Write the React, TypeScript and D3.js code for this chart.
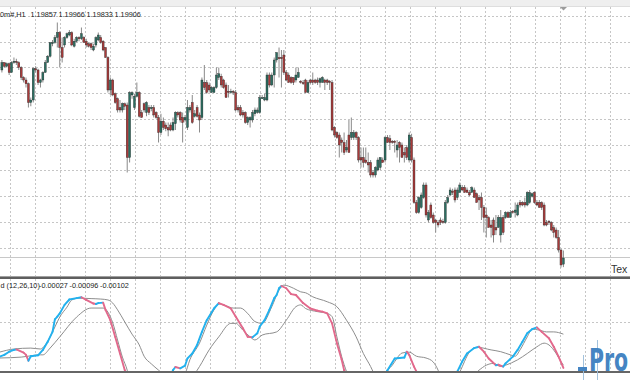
import React from "react";
import * as d3 from "d3";

// ---- Price data (EURUSD H1), oldest -> newest ----
const openP = [
1.2141,1.2147,1.2144,1.2146,1.2139,1.2147,1.2148,1.2147,1.2143,1.2135,
1.2133,1.2130,1.2115,1.2117,1.2142,1.2141,1.2131,1.2133,1.2139,1.2147,
1.2152,1.2162,1.2163,1.2167,1.2171,1.2159,1.2161,1.2167,1.2169,1.2171,
1.2160,1.2164,1.2167,1.2166,1.2167,1.2164,1.2162,1.2162,1.2157,1.2161,
1.2165,1.2167,1.2164,1.2159,1.2151,1.2125,1.2133,1.2122,1.2118,1.2111,
1.2109,1.2114,1.2113,1.2071,1.2121,1.2111,1.2120,1.2123,1.2107,1.2114,
1.2107,1.2111,1.2110,1.2111,1.2107,1.2103,1.2091,1.2100,1.2097,1.2095,
1.2097,1.2093,1.2098,1.2107,1.2107,1.2103,1.2101,1.2095,1.2109,1.2115,
1.2104,1.2111,1.2105,1.2103,1.2131,1.2131,1.2129,1.2123,1.2123,1.2127,
1.2135,1.2136,1.2133,1.2129,1.2124,1.2123,1.2124,1.2123,1.2111,1.2111,
1.2107,1.2107,1.2099,1.2101,1.2101,1.2106,1.2107,1.2107,1.2118,1.2117,
1.2117,1.2137,1.2129,1.2137,1.2149,1.2151,1.2151,1.2153,1.2139,1.2137,
1.2135,1.2135,1.2133,1.2135,1.2132,1.2131,1.2133,1.2123,1.2133,1.2133,
1.2133,1.2133,1.2131,1.2131,1.2133,1.2133,1.2132,1.2131,1.2095,1.2091,
1.2089,1.2085,1.2083,1.2077,1.2089,1.2087,1.2087,1.2091,1.2087,1.2071,
1.2071,1.2069,1.2067,1.2067,1.2059,1.2057,1.2061,1.2063,1.2069,1.2069,
1.2087,1.2086,1.2084,1.2084,1.2077,1.2083,1.2081,1.2075,1.2079,1.2069,
1.2087,1.2069,1.2035,1.2027,1.2031,1.2039,1.2049,1.2021,1.2033,1.2025,
1.2021,1.2019,1.2021,1.2020,1.2019,1.2035,1.2041,1.2044,1.2045,1.2039,
1.2043,1.2047,1.2047,1.2045,1.2043,1.2043,1.2045,1.2042,1.2039,1.2039,
1.2031,1.2025,1.2023,1.2017,1.2021,1.2015,1.2015,1.2009,1.2023,1.2023,
1.2027,1.2023,1.2028,1.2027,1.2025,1.2035,1.2035,1.2035,1.2033,1.2035,
1.2040,1.2043,1.2035,1.2035,1.2035,1.2033,1.2019,1.2020,1.2019,1.2015,
1.2013,1.2007,1.1997,1.19857];

const highP = [
1.2149,1.2147,1.2147,1.2147,1.2148,1.2151,1.2150,1.2148,1.2144,1.2136,
1.2135,1.2131,1.2119,1.2143,1.2144,1.2142,1.2134,1.2140,1.2149,1.2153,
1.2163,1.2165,1.2169,1.2179,1.2172,1.2167,1.2168,1.2171,1.2173,1.2172,
1.2166,1.2168,1.2168,1.2175,1.2168,1.2166,1.2163,1.2163,1.2162,1.2168,
1.2171,1.2169,1.2165,1.2159,1.2152,1.2135,1.2134,1.2123,1.2119,1.2117,
1.2115,1.2115,1.2115,1.2124,1.2124,1.2122,1.2131,1.2124,1.2109,1.2115,
1.2116,1.2113,1.2113,1.2113,1.2108,1.2105,1.2106,1.2103,1.2099,1.2099,
1.2099,1.2103,1.2108,1.2108,1.2108,1.2107,1.2105,1.2117,1.2113,1.2121,
1.2109,1.2113,1.2107,1.2135,1.2145,1.2133,1.2131,1.2128,1.2128,1.2143,
1.2143,1.2138,1.2134,1.2131,1.2129,1.2126,1.2125,1.2125,1.2113,1.2113,
1.2109,1.2108,1.2104,1.2104,1.2109,1.2111,1.2111,1.2121,1.2121,1.2122,
1.2139,1.2139,1.2139,1.2151,1.2155,1.2159,1.2157,1.2157,1.2141,1.2139,
1.2136,1.2135,1.2143,1.2143,1.2133,1.2133,1.2134,1.2133,1.2134,1.2139,
1.2134,1.2135,1.2135,1.2136,1.2134,1.2134,1.2133,1.2133,1.2096,1.2092,
1.2091,1.2087,1.2091,1.2085,1.2101,1.2103,1.2093,1.2092,1.2088,1.2079,
1.2079,1.2079,1.2075,1.2069,1.2061,1.2064,1.2071,1.2071,1.2071,1.2088,
1.2089,1.2089,1.2085,1.2085,1.2085,1.2084,1.2083,1.2079,1.2081,1.2091,
1.2090,1.2071,1.2037,1.2040,1.2043,1.2051,1.2051,1.2029,1.2035,1.2027,
1.2022,1.2021,1.2023,1.2022,1.2037,1.2041,1.2047,1.2046,1.2047,1.2047,
1.2051,1.2049,1.2049,1.2047,1.2045,1.2048,1.2047,1.2043,1.2041,1.2043,
1.2033,1.2031,1.2024,1.2021,1.2023,1.2025,1.2025,1.2029,1.2025,1.2028,
1.2028,1.2029,1.2029,1.2035,1.2035,1.2037,1.2036,1.2039,1.2044,1.2045,
1.2043,1.2044,1.2037,1.2037,1.2036,1.2035,1.2021,1.2021,1.2020,1.2017,
1.2015,1.2013,1.1998,1.19966];

const lowP = [
1.2139,1.2143,1.2143,1.2137,1.2139,1.2146,1.2145,1.2141,1.2133,1.2131,
1.2127,1.2111,1.2112,1.2115,1.2139,1.2129,1.2127,1.2131,1.2139,1.2147,
1.2151,1.2160,1.2162,1.2159,1.2143,1.2147,1.2159,1.2166,1.2168,1.2160,
1.2159,1.2163,1.2164,1.2165,1.2163,1.2159,1.2159,1.2157,1.2156,1.2159,
1.2164,1.2162,1.2156,1.2151,1.2123,1.2121,1.2120,1.2114,1.2107,1.2107,
1.2107,1.2109,1.2059,1.2067,1.2118,1.2109,1.2119,1.2103,1.2103,1.2107,
1.2104,1.2105,1.2108,1.2103,1.2102,1.2083,1.2089,1.2093,1.2092,1.2088,
1.2092,1.2092,1.2093,1.2103,1.2099,1.2083,1.2099,1.2093,1.2107,1.2098,
1.2103,1.2103,1.2091,1.2101,1.2125,1.2122,1.2123,1.2123,1.2123,1.2126,
1.2133,1.2127,1.2126,1.2119,1.2119,1.2122,1.2121,1.2108,1.2107,1.2104,
1.2103,1.2098,1.2097,1.2095,1.2099,1.2104,1.2106,1.2106,1.2118,1.2116,
1.2116,1.2127,1.2128,1.2127,1.2147,1.2135,1.2127,1.2137,1.2132,1.2131,
1.2130,1.2129,1.2131,1.2135,1.2130,1.2129,1.2123,1.2123,1.2130,1.2129,
1.2130,1.2129,1.2127,1.2131,1.2125,1.2129,1.2125,1.2092,1.2087,1.2086,
1.2071,1.2075,1.2073,1.2075,1.2075,1.2085,1.2085,1.2085,1.2067,1.2063,
1.2063,1.2066,1.2059,1.2055,1.2055,1.2055,1.2060,1.2061,1.2067,1.2067,
1.2083,1.2077,1.2082,1.2075,1.2071,1.2067,1.2071,1.2067,1.2069,1.2067,
1.2067,1.2034,1.2026,1.2026,1.2030,1.2038,1.2023,1.2019,1.2022,1.2018,
1.2011,1.2015,1.2017,1.2018,1.2018,1.2034,1.2040,1.2041,1.2035,1.2037,
1.2043,1.2044,1.2043,1.2043,1.2040,1.2043,1.2039,1.2035,1.2029,1.2021,
1.2011,1.2007,1.2015,1.2007,1.2003,1.2009,1.2015,1.2003,1.2009,1.2022,
1.2023,1.2023,1.2026,1.2023,1.2024,1.2031,1.2032,1.2031,1.2032,1.2034,
1.2039,1.2034,1.2032,1.2031,1.2029,1.2016,1.2016,1.2017,1.2012,1.2007,
1.2006,1.1995,1.1983,1.19833];

const closeP = [
1.2147,1.2144,1.2146,1.2139,1.2147,1.2148,1.2147,1.2143,1.2135,1.2133,
1.2130,1.2115,1.2117,1.2142,1.2141,1.2131,1.2133,1.2139,1.2147,1.2152,
1.2163,1.2163,1.2167,1.2171,1.2159,1.2151,1.2167,1.2170,1.2171,1.2161,
1.2164,1.2167,1.2166,1.2170,1.2163,1.2161,1.2160,1.2159,1.2160,1.2167,
1.2169,1.2163,1.2157,1.2151,1.2125,1.2133,1.2121,1.2115,1.2109,1.2109,
1.2114,1.2112,1.2071,1.2123,1.2123,1.2120,1.2123,1.2104,1.2103,1.2109,
1.2115,1.2107,1.2111,1.2105,1.2103,1.2091,1.2100,1.2095,1.2094,1.2093,
1.2093,1.2099,1.2107,1.2105,1.2101,1.2099,1.2103,1.2111,1.2111,1.2099,
1.2106,1.2104,1.2101,1.2133,1.2127,1.2123,1.2125,1.2127,1.2127,1.2137,
1.2138,1.2129,1.2127,1.2119,1.2123,1.2124,1.2123,1.2109,1.2109,1.2105,
1.2105,1.2099,1.2103,1.2103,1.2107,1.2109,1.2109,1.2119,1.2119,1.2119,
1.2137,1.2129,1.2137,1.2149,1.2155,1.2150,1.2150,1.2139,1.2133,1.2131,
1.2131,1.2131,1.2137,1.2139,1.2131,1.2130,1.2123,1.2131,1.2131,1.2131,
1.2131,1.2131,1.2134,1.2135,1.2131,1.2131,1.2131,1.2093,1.2089,1.2087,
1.2081,1.2083,1.2075,1.2079,1.2075,1.2091,1.2091,1.2087,1.2069,1.2069,
1.2067,1.2067,1.2065,1.2057,1.2057,1.2063,1.2069,1.2071,1.2067,1.2087,
1.2083,1.2083,1.2083,1.2083,1.2081,1.2079,1.2071,1.2073,1.2071,1.2089,
1.2069,1.2035,1.2027,1.2039,1.2041,1.2049,1.2025,1.2027,1.2023,1.2019,
1.2019,1.2017,1.2019,1.2019,1.2035,1.2039,1.2045,1.2043,1.2037,1.2045,
1.2049,1.2045,1.2043,1.2043,1.2041,1.2047,1.2039,1.2035,1.2037,1.2031,
1.2023,1.2023,1.2015,1.2015,1.2009,1.2013,1.2023,1.2023,1.2011,1.2027,
1.2023,1.2027,1.2027,1.2029,1.2033,1.2033,1.2033,1.2033,1.2043,1.2043,
1.2042,1.2035,1.2033,1.2031,1.2031,1.2017,1.2017,1.2019,1.2013,1.2011,
1.2007,1.1997,1.1985,1.19906];

// ---- Indicator (12,26,10): colored main line + two grey lines, sampled at bar indices ----
const mainIdx = [-1,1,3,5,6,9,10,11,12,15,17,19,21,22,23,24,26,28,31,33,35,38,39,40,42,43,45,47,49,51,53,58,63,67,71,72,74,76,77,79,81,83,85,88,90,92,95,97,100,102,104,106,107,109,111,113,114,115,116,118,120,122,125,128,131,133,135,137,139,141,142,148,153,157,160,163,165,167,168,169,171,172,180,186,189,191,193,196,198,200,202,205,206,208,209,212,214,216,218,220,222,224,227,229,231,233];
const mainVal = [-0.00077,-0.00073,-0.00066,-0.00062,-0.00061,-0.00068,-0.00073,-0.00086,-0.00076,-0.00074,-0.00062,-0.00044,-0.00022,0.00006,0.00012,0.00019,0.00038,0.00050,0.00053,0.00055,0.00049,0.00041,0.00040,0.00042,0.00043,0.00027,0.00004,-0.00033,-0.00070,-0.00107,-0.00130,-0.00165,-0.00175,-0.00160,-0.00107,-0.00100,-0.00103,-0.00097,-0.00081,-0.00070,-0.00051,-0.00022,0.00004,0.00030,0.00042,0.00038,0.00030,0.00012,-0.00014,-0.00033,-0.00034,-0.00025,-0.00010,0.00004,0.00027,0.00053,0.00060,0.00075,0.00080,0.00075,0.00062,0.00060,0.00042,0.00030,0.00025,0.00023,0.00019,-0.00003,-0.00047,-0.00084,-0.00107,-0.00160,-0.00175,-0.00150,-0.00107,-0.00081,-0.00080,-0.00079,-0.00066,-0.00073,-0.00099,-0.00110,-0.00180,-0.00140,-0.00110,-0.00088,-0.00070,-0.00058,-0.00055,-0.00066,-0.00081,-0.00096,-0.00095,-0.00099,-0.00092,-0.00077,-0.00062,-0.00044,-0.00025,-0.00016,-0.00012,-0.00022,-0.00036,-0.00055,-0.00077,-0.00102];

const upperIdx = [-1,5,12,16,18,20,22,24,27,29,32,37,41,44,46,48,51,54,57,59,62,65,69,73,76,78,82,85,88,90,93,96,99,102,105,108,112,115,117,121,124,126,129,135,139,143,147,150,153,154,156,159,162,164,166,169,172,176,179,181,182,187,190,194,197,203,207,211,213,215,218,220,223,226,229,233];
const upperVal = [-0.00067,-0.00060,-0.00058,-0.00060,-0.00051,-0.00033,-0.00011,0.00011,0.00033,0.00049,0.00053,0.00052,0.00051,0.00049,0.00042,0.00027,0.00000,-0.00027,-0.00051,-0.00076,-0.00093,-0.00107,-0.00125,-0.00130,-0.00115,-0.00084,-0.00047,-0.00007,0.00027,0.00040,0.00036,0.00031,0.00031,0.00019,0.00001,-0.00003,0.00034,0.00071,0.00082,0.00075,0.00067,0.00065,0.00056,0.00045,0.00034,0.00004,-0.00033,-0.00070,-0.00099,-0.00110,-0.00125,-0.00111,-0.00096,-0.00080,-0.00069,-0.00067,-0.00076,-0.00080,-0.00089,-0.00107,-0.00120,-0.00140,-0.00111,-0.00067,-0.00056,-0.00062,-0.00066,-0.00073,-0.00076,-0.00062,-0.00033,-0.00016,-0.00018,-0.00022,-0.00022,-0.00027];

const lowerIdx = [-1,8,16,17,20,24,31,37,42,44,46,48,50,52,53,60,70,78,82,86,90,95,97,100,103,105,108,114,118,122,124,126,131,135,137,139,141,143,150,165,180,192,198,201,204,207,209,214,218,222,225,227,230,232,233];
const lowerVal = [-0.00080,-0.00078,-0.00073,-0.00073,-0.00058,-0.00033,0.00011,0.00031,0.00031,0.00022,-0.00002,-0.00040,-0.00078,-0.00107,-0.00129,-0.00180,-0.00170,-0.00130,-0.00099,-0.00062,-0.00033,-0.00003,-0.00003,-0.00018,-0.00033,-0.00040,-0.00029,-0.00022,0.00004,0.00034,0.00038,0.00030,0.00023,0.00019,0.00012,-0.00033,-0.00077,-0.00110,-0.00170,-0.00180,-0.00170,-0.00140,-0.00107,-0.00096,-0.00092,-0.00099,-0.00096,-0.00084,-0.00070,-0.00055,-0.00047,-0.00051,-0.00070,-0.00088,-0.00096];

// horizontal grid levels of the price window
const priceGrid = [1.2184, 1.21634, 1.21428, 1.21222, 1.21016, 1.2081, 1.20604, 1.20398, 1.20192, 1.19986];

const symbolLabel = "0m#,H1";
const indicatorLabel = "d (12,26,10)";
const textObject = "Tex";
const watermark = "Pro";

export default function App() {
  const W = 630, H = 380;
  const N = closeP.length;
  const x = d3.scaleLinear().domain([0, N - 1]).range([1.9, 563.4]);
  const y = d3.scaleLinear().domain([1.1957, 1.2197]).range([300, 0]);
  const ys = d3.scaleLinear().domain([0, 0.001]).range([322, 277]);

  const mainTop = 7, mainBottom = 276;
  const subTop = 279, subBottom = 371;
  const vGrid = d3.range(10.7, 612, 25).map((v) => Math.floor(v) + 0.5);

  const bodyW = 2.0;
  const bull = "#2b6e61";
  const bear = "#a83a3a";

  const grayLine = d3.line<[number, number]>().x((d) => x(d[0])).y((d) => ys(d[1])).curve(d3.curveMonotoneX);
  const upperPts = upperIdx.map((ix, k) => [ix, upperVal[k]] as [number, number]);
  const lowerPts = lowerIdx.map((ix, k) => [ix, lowerVal[k]] as [number, number]);

  const segs = mainIdx.slice(1).map((ix, k) => ({
    x1: x(mainIdx[k]), y1: ys(mainVal[k]), x2: x(ix), y2: ys(mainVal[k + 1]),
    up: mainVal[k + 1] >= mainVal[k],
  }));

  const last = N - 1;
  const font = "'Liberation Sans', Arial, sans-serif";
  const hdr = [
    { t: symbolLabel, x: 0 },
    { t: openP[last].toFixed(5), x: 30.5 },
    { t: highP[last].toFixed(5), x: 58.5 },
    { t: lowP[last].toFixed(5), x: 86.5 },
    { t: closeP[last].toFixed(5), x: 114.5 },
  ];
  const subHdr = [
    { t: indicatorLabel, x: 0.5 },
    { t: upperVal[upperVal.length - 1].toFixed(5), x: 39 },
    { t: lowerVal[lowerVal.length - 1].toFixed(5), x: 69.5 },
    { t: mainVal[mainVal.length - 1].toFixed(5), x: 100 },
  ];

  return (
    <svg width={W} height={H} style={{ position: "absolute", left: 0, top: 0, background: "#fff" }}>
      <defs>
        <clipPath id="mainClip"><rect x={0} y={mainTop} width={W} height={mainBottom - mainTop} /></clipPath>
        <clipPath id="subClip"><rect x={0} y={subTop + 0.5} width={W} height={subBottom - subTop - 0.5} /></clipPath>
      </defs>
      <rect x={0} y={0} width={W} height={H} fill="#fff" />
      {/* top strip */}
      <rect x={0} y={0} width={W} height={6.5} fill="#efefef" />
      <line x1={0} x2={W} y1={6.5} y2={6.5} stroke="#dedede" />

      {/* main grid */}
      <g stroke="#c6c6c6" strokeWidth={1} strokeDasharray="2,2">
        {priceGrid.map((p, i) => {
          const yy = Math.floor(y(p)) + 0.5;
          return <line key={"h" + i} x1={0} x2={W} y1={yy} y2={yy} />;
        })}
        {vGrid.map((gx, i) => <line key={"v" + i} x1={gx} x2={gx} y1={mainTop} y2={mainBottom} />)}
      </g>
      {/* bid line */}
      <line x1={0} x2={W} y1={Math.floor(y(closeP[last])) + 0.5} y2={Math.floor(y(closeP[last])) + 0.5} stroke="#c8c8c8" />

      {/* candles */}
      <g clipPath="url(#mainClip)">
        {closeP.map((c, i) => {
          const o = openP[i];
          const cx = x(i);
          const yo = y(o), yc = y(c);
          const top = Math.min(yo, yc);
          const h = Math.max(Math.abs(yo - yc), 0.9);
          const up = c > o;
          const flat = Math.abs(c - o) < 0.00002;
          return (
            <g key={i}>
              <line x1={cx} x2={cx} y1={y(highP[i])} y2={y(lowP[i])} stroke="#8a8a8a" strokeWidth={1} />
              <rect x={cx - bodyW / 2} y={top} width={bodyW} height={h}
                fill={flat ? "#222" : up ? bull : bear} stroke="#222" strokeWidth={0.35} />
            </g>
          );
        })}
      </g>

      {/* chart-shift marker */}
      <path d="M560,7 L567,7 L563.5,10.5 Z" fill="#9c9c9c" />

      {/* header */}
      <text y={17} fontFamily={font} fontSize={7.3} fill="#222">
        {hdr.map((h, i) => <tspan key={i} x={h.x}>{h.t}</tspan>)}
      </text>

      <text x={611} y={273} fontFamily={font} fontSize={10.5} fill="#333">{textObject}</text>

      {/* separators */}
      <line x1={0} x2={W} y1={276.5} y2={276.5} stroke="#a0a0a0" />
      <rect x={0} y={277} width={W} height={2} fill="#5e5e5e" />

      {/* sub window grid */}
      <g stroke="#c6c6c6" strokeWidth={1} strokeDasharray="2,2">
        <line x1={0} x2={W} y1={Math.floor(ys(0)) + 0.5} y2={Math.floor(ys(0)) + 0.5} />
        {vGrid.map((gx, i) => <line key={"sv" + i} x1={gx} x2={gx} y1={subTop} y2={subBottom} />)}
      </g>

      <g clipPath="url(#subClip)">
        <path d={grayLine(upperPts) || ""} fill="none" stroke="#8d8d8d" strokeWidth={1} />
        <path d={grayLine(lowerPts) || ""} fill="none" stroke="#8d8d8d" strokeWidth={1} />
        {segs.map((s, i) => (
          <line key={i} x1={s.x1} y1={s.y1} x2={s.x2} y2={s.y2}
            stroke={s.up ? "#22b1ee" : "#e2698c"} strokeWidth={1.9} strokeLinecap="round" />
        ))}
      </g>

      <text y={287.5} fontFamily={font} fontSize={7.3} fill="#222">
        {subHdr.map((h, i) => <tspan key={i} x={h.x}>{h.t}</tspan>)}
      </text>

      {/* bottom border */}
      <rect x={0} y={371} width={W} height={2} fill="#666" />

      {/* watermark */}
      <g opacity={0.95}>
        <line x1={583.5} x2={583.5} y1={355} y2={380} stroke="#9fbfdc" strokeWidth={1} />
        <line x1={597.5} x2={597.5} y1={340} y2={380} stroke="#9fbfdc" strokeWidth={1} />
        <rect x={578} y={367} width={9} height={4} fill="#3c7fc0" />
        <text transform="translate(589,371) scale(1,1.55)" x={0} y={0}
          fontFamily="'DejaVu Sans', sans-serif" fontWeight={700} fontSize={20.5}
          fill="#3c7fc0">{watermark}</text>
      </g>
    </svg>
  );
}
